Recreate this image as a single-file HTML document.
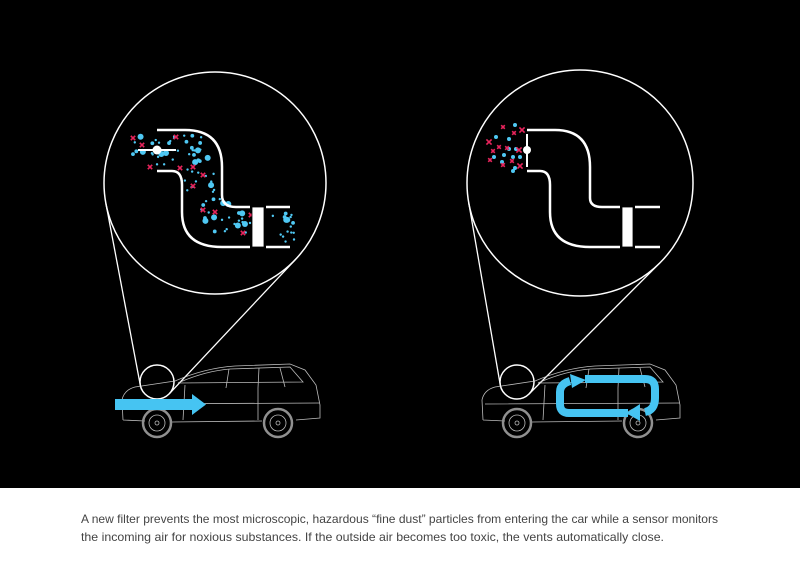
<!DOCTYPE html>
<html><head><meta charset="utf-8"><style>
html,body{margin:0;padding:0;background:#000;}
svg{display:block;}
</style></head><body>
<svg id="s" width="800" height="566" viewBox="0 0 800 566" xmlns="http://www.w3.org/2000/svg">
<rect x="0" y="0" width="800" height="488" fill="#000"/>
<rect x="0" y="488" width="800" height="78" fill="#fff"/>
<g fill="none" stroke="#fff" stroke-width="1.5">
<circle cx="215" cy="183" r="111"/>
<circle cx="580" cy="183" r="113"/>
<circle cx="157" cy="382" r="17"/>
<circle cx="517" cy="382" r="17"/>
</g>
<g id="tang" stroke="#fff" stroke-width="1.3"></g>
<g id="pl"></g>
<g fill="none" stroke="#fff" stroke-width="2.5">
<path d="M157 130 H185 Q222 130 222 167 V195 Q222 207 236 207 H250"/>
<path d="M266 207 H290"/>
<path d="M157 171 H172 Q182 171 182 185 V212 Q182 247 222 247 H250"/>
<path d="M266 247 H290"/>
<line x1="138" y1="150" x2="176" y2="150" stroke-width="2"/>
</g>
<rect x="252" y="207" width="12" height="40" fill="#fff" stroke="#000" stroke-width="0.8"/>
<circle cx="157" cy="150" r="4.5" fill="#fff"/>
<g id="pr"></g>
<g fill="none" stroke="#fff" stroke-width="2.5">
<path d="M527 130 H555 Q590 130 590 167 V198 Q590 207 602 207 H620"/>
<path d="M635 207 H660"/>
<path d="M527 171 H540 Q550 171 550 185 V212 Q550 247 590 247 H620"/>
<path d="M635 247 H660"/>
<line x1="527" y1="134" x2="527" y2="167" stroke-width="2"/>
</g>
<rect x="622" y="207" width="11" height="40" fill="#fff" stroke="#000" stroke-width="0.8"/>
<circle cx="527" cy="150" r="4" fill="#fff"/>
<g id="cars"></g>
<path d="M115 399 H192 V394 L206 404.5 L192 415 V410 H115 Z" fill="#46c4f2"/>
<g fill="none" stroke="#46c4f2" stroke-width="8">
<path d="M585 379 H645 Q655 379 655 389 V398 Q655 410 645 412"/>
<path d="M628 413 H569 Q560 413 560 404 V392 Q560 384 570 381"/>
</g>
<path d="M570 374 L586 380 L572 388 Z" fill="#46c4f2"/>
<path d="M640 404 L626 413 L640 421 Z" fill="#46c4f2"/>
<text x="81" y="523" font-family="Liberation Sans, sans-serif" font-size="12" fill="#444" textLength="637" lengthAdjust="spacingAndGlyphs">A new filter prevents the most microscopic, hazardous “fine dust” particles from entering the car while a sensor monitors</text>
<text x="81" y="541" font-family="Liberation Sans, sans-serif" font-size="12" fill="#444" textLength="583" lengthAdjust="spacingAndGlyphs">the incoming air for noxious substances. If the outside air becomes too toxic, the vents automatically close.</text>
</svg>
<script>
var NS="http://www.w3.org/2000/svg";
function el(p,t,a){var e=document.createElementNS(NS,t);for(var k in a)e.setAttribute(k,a[k]);p.appendChild(e);return e;}
function tang(c1,r1,c2,r2){var g=document.getElementById('tang');
 var dx=c2[0]-c1[0],dy=c2[1]-c1[1],d=Math.hypot(dx,dy),a=Math.atan2(dy,dx),b=Math.acos((r1-r2)/d);
 [a+b,a-b].forEach(function(t){el(g,'line',{x1:c1[0]+r1*Math.cos(t),y1:c1[1]+r1*Math.sin(t),x2:c2[0]+r2*Math.cos(t),y2:c2[1]+r2*Math.sin(t)});});}
tang([215,183],111,[157,382],17);tang([580,183],113,[517,382],17);
var seed=7;function R(){seed=(seed*16807)%2147483647;return seed/2147483647;}
function X(g,x,y,s,c){el(g,'path',{d:'M'+(x-s)+' '+(y-s)+'L'+(x+s)+' '+(y+s)+'M'+(x+s)+' '+(y-s)+'L'+(x-s)+' '+(y+s),stroke:c,'stroke-width':1.6,fill:'none'});}
var pl=document.getElementById('pl');
var center=[[138,150],[160,150],[185,150],[200,160],[202,185],[206,205],[222,225],[250,227],[275,227],[295,227]];
for(var i=0;i<105;i++){var t=R()*(center.length-1),k=Math.floor(t),f=t-k;var p=center[k],q=center[k+1];
 var x=p[0]+(q[0]-p[0])*f+(R()-.5)*34,y=p[1]+(q[1]-p[1])*f+(R()-.5)*32;
 if(x>250&&x<266)continue;
 var r=R();el(pl,'circle',{cx:x,cy:y,r:(r<0.2?3:r<0.5?1.9:1.2),fill:'#4fc8f3'});}
[[133,138],[176,137],[142,145],[150,167],[180,168],[193,167],[203,175],[193,186],[203,210],[215,212],[243,233],[251,215]].forEach(function(p){X(pl,p[0],p[1],2.2,'#e8245c');});
var pr=document.getElementById('pr');
[[515,125],[496,137],[509,139],[516,149],[520,157],[513,157],[502,162],[515,168],[513,171],[494,157],[509,149],[504,155]].forEach(function(p){el(pr,'circle',{cx:p[0],cy:p[1],r:2,fill:'#4fc8f3'});});
[[522,130],[503,127],[514,133],[489,142],[499,147],[507,148],[519,150],[512,161],[503,165],[520,166],[490,160],[493,151]].forEach(function(p,i){X(pr,p[0],p[1],i%3==0?2.6:1.8,'#e8245c');});
function car(ox){var g=el(document.getElementById('cars'),'g',{transform:'translate('+ox+',0)',fill:'none',stroke:'#ddd','stroke-width':0.8,opacity:0.85});
 el(g,'path',{d:'M123 420 L122 400 Q124 390 135 387 L175 381 Q205 368 235 366 L290 364 L305 370 L316 385 L320 405 L320 418 L296 420 M262 421 L172 422 M145 421 L123 420'});
 el(g,'path',{d:'M178 383 Q205 371 230 369 L290 367 L303 382 Z'});
 el(g,'path',{d:'M229 369 L226 388 M259 368 L258 388 M280 368 L285 387'});
 el(g,'path',{d:'M185 385 L183 420 M258 388 L258 420 M125 404 L320 403'});
 [[157,423],[278,423]].forEach(function(w){el(g,'circle',{cx:w[0],cy:w[1],r:14,stroke:'#aaa','stroke-width':2.5});el(g,'circle',{cx:w[0],cy:w[1],r:8});el(g,'circle',{cx:w[0],cy:w[1],r:2});});}
car(0);car(360);
</script>
</body></html>
